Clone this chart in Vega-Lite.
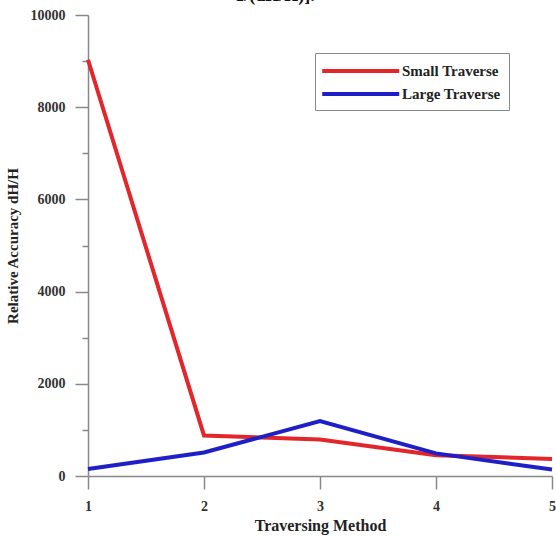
{
  "$schema": "https://vega.github.io/schema/vega-lite/v6.json",
  "width": 464,
  "height": 461,
  "autosize": {"type": "none"},
  "padding": {"left": 88, "top": 15, "right": 4, "bottom": 60},
  "background": "white",
  "title": {
    "text": "1/(dH/H)].",
    "font": "Liberation Serif",
    "fontWeight": "bold",
    "fontSize": 18,
    "color": "#111",
    "anchor": "middle",
    "baseline": "alphabetic",
    "offset": 3,
    "dx": -45,
    "dy": 14
  },
  "config": {
    "view": {"stroke": null},
    "font": "Liberation Serif"
  },
  "data": {
    "values": [
      {"Method": 1, "Accuracy": 9030, "Series": "Small Traverse"},
      {"Method": 2, "Accuracy": 880, "Series": "Small Traverse"},
      {"Method": 3, "Accuracy": 792, "Series": "Small Traverse"},
      {"Method": 4, "Accuracy": 450, "Series": "Small Traverse"},
      {"Method": 5, "Accuracy": 370, "Series": "Small Traverse"},
      {"Method": 1, "Accuracy": 150, "Series": "Large Traverse"},
      {"Method": 2, "Accuracy": 510, "Series": "Large Traverse"},
      {"Method": 3, "Accuracy": 1190, "Series": "Large Traverse"},
      {"Method": 4, "Accuracy": 490, "Series": "Large Traverse"},
      {"Method": 5, "Accuracy": 140, "Series": "Large Traverse"}
    ]
  },
  "mark": {"type": "line", "strokeWidth": 4, "clip": false},
  "encoding": {
    "x": {
      "field": "Method",
      "type": "quantitative",
      "scale": {"domain": [1, 5], "nice": false, "zero": false},
      "axis": {
        "title": "Traversing Method",
        "titleFont": "Liberation Serif",
        "titleFontWeight": "bold",
        "titleFontSize": 16,
        "titleColor": "#222",
        "titlePadding": 4,
        "values": [1, 1.5, 2, 2.5, 3, 3.5, 4, 4.5, 5],
        "format": "d",
        "labelExpr": "datum.value % 1 === 0 ? datum.label : ''",
        "labelFont": "Liberation Serif",
        "labelFontWeight": "bold",
        "labelFontSize": 14,
        "labelColor": "#333",
        "labelFlush": false,
        "labelOverlap": false,
        "labelPadding": 10,
        "grid": false,
        "domainColor": "#888",
        "domainWidth": 1.5,
        "tickColor": "#888",
        "tickWidth": 1.5,
        "tickSize": {"condition": {"test": "datum.value % 1 === 0", "value": 13}, "value": 5}
      }
    },
    "y": {
      "field": "Accuracy",
      "type": "quantitative",
      "scale": {"domain": [0, 10000], "nice": false},
      "axis": {
        "title": "Relative Accuracy dH/H",
        "titleFont": "Liberation Serif",
        "titleFontWeight": "bold",
        "titleFontSize": 15,
        "titleColor": "#222",
        "titlePadding": 10,
        "values": [0, 1000, 2000, 3000, 4000, 5000, 6000, 7000, 8000, 9000, 10000],
        "labelExpr": "datum.value % 2000 === 0 ? datum.label : ''",
        "format": "d",
        "labelFont": "Liberation Serif",
        "labelFontWeight": "bold",
        "labelFontSize": 14,
        "labelColor": "#333",
        "labelOverlap": false,
        "labelPadding": 10,
        "grid": false,
        "domainColor": "#888",
        "domainWidth": 1.5,
        "tickColor": "#888",
        "tickWidth": 1.5,
        "tickSize": {"condition": {"test": "datum.value % 2000 === 0", "value": 13}, "value": 6}
      }
    },
    "color": {
      "field": "Series",
      "type": "nominal",
      "scale": {"domain": ["Small Traverse", "Large Traverse"], "range": ["#e3262b", "#1f1fc8"]},
      "legend": {
        "title": null,
        "orient": "none",
        "legendX": 227,
        "legendY": 38,
        "strokeColor": "#888",
        "fillColor": "white",
        "padding": 8,
        "symbolType": "M-1.4,0H8.6",
        "symbolSize": 237,
        "symbolStrokeWidth": 4,
        "labelFont": "Liberation Serif",
        "labelFontWeight": "bold",
        "labelFontSize": 15,
        "labelColor": "#222",
        "labelOffset": 59,
        "rowPadding": 5
      }
    }
  }
}
